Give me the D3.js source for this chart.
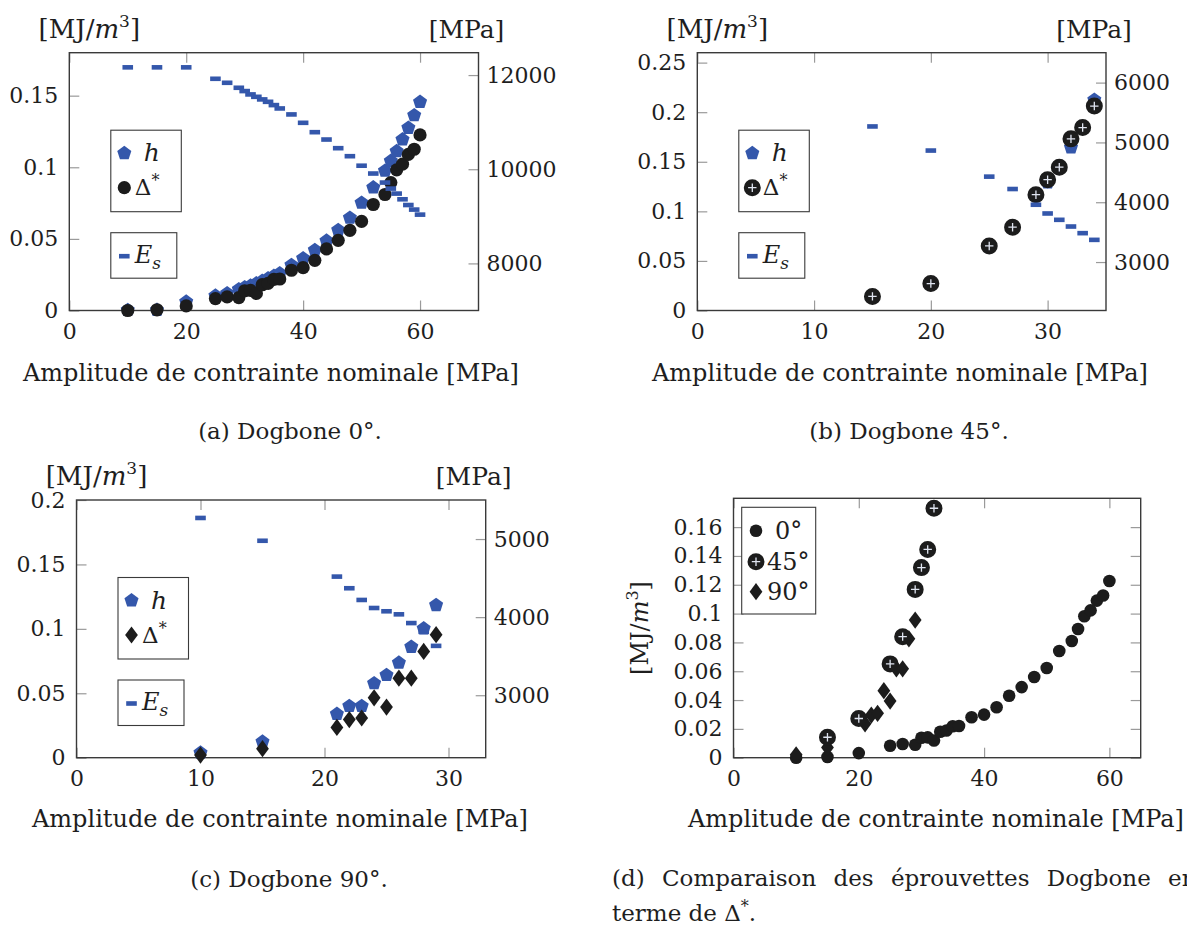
<!DOCTYPE html>
<html>
<head>
<meta charset="utf-8">
<script src="https://cdn.jsdelivr.net/npm/d3@7"></script>
<style>
  body { margin: 0; background: #fff; }
  svg text { font-family: "DejaVu Serif", serif; fill: #1e1e1e; }
</style>
</head>
<body>
<svg id="fig" width="1187" height="925"></svg>
<script>
// ---- Dogbone 0° ----
const stress0 = [10, 15, 20, 25, 27, 29, 30, 31, 32, 33, 34, 35, 36, 38, 40, 42, 44, 46, 48, 50, 52, 54, 55, 56, 57, 58, 59, 60];
const h0      = [0.0003, 0.0004, 0.0061, 0.0103, 0.0120, 0.0148, 0.0162, 0.0173, 0.0190, 0.0206, 0.0224, 0.0241, 0.0259, 0.0317, 0.0364, 0.0422, 0.0487, 0.0561, 0.0647, 0.0752, 0.0859, 0.0975, 0.1044, 0.1112, 0.1194, 0.1275, 0.1363, 0.1456];
const delta0  = [0.0000, 0.0005, 0.0032, 0.0083, 0.0095, 0.0090, 0.0138, 0.0141, 0.0119, 0.0180, 0.0189, 0.0218, 0.0220, 0.0281, 0.0299, 0.0350, 0.0430, 0.0490, 0.0560, 0.0622, 0.0740, 0.0810, 0.0893, 0.0982, 0.1022, 0.1090, 0.1126, 0.1226];
const es0     = [12164, 12164, 12164, 11921, 11836, 11730, 11660, 11589, 11538, 11483, 11432, 11362, 11291, 11164, 10986, 10787, 10631, 10447, 10277, 10075, 9909, 9717, 9589, 9483, 9362, 9240, 9143, 9036];

// ---- Dogbone 45° ----
const stress45 = [15, 20, 25, 27, 29, 30, 31, 32, 33, 34];
const h45      = [0.0141, 0.0272, 0.0640, 0.0840, 0.1160, 0.1290, 0.1445, 0.1644, 0.1845, 0.2125];
const delta45  = [0.0142, 0.0272, 0.0651, 0.0840, 0.1168, 0.1319, 0.1445, 0.1731, 0.1845, 0.2062];
const es45     = [5267, 4864, 4428, 4221, 3958, 3812, 3706, 3594, 3483, 3371];

// ---- Dogbone 90° ----
const stress90 = [10, 15, 21, 22, 23, 24, 25, 26, 27, 28, 29];
const h90      = [0.0039, 0.0124, 0.0339, 0.0401, 0.0401, 0.0577, 0.0641, 0.0737, 0.0860, 0.1003, 0.1184];
const delta90  = [0.0020, 0.0070, 0.0235, 0.0296, 0.0308, 0.0465, 0.0393, 0.0617, 0.0617, 0.0825, 0.0955];
const es90     = [5270, 4978, 4519, 4370, 4220, 4117, 4075, 4036, 3924, 3812, 3632];

// ---- ticks ----
const xTicks0 = [0, 20, 40, 60];
const xTicks45 = [0, 10, 20, 30];
const xTicks90 = [0, 10, 20, 30];
const xTicksCmp = [0, 20, 40, 60];
const yTicks0 = [0, 0.05, 0.1, 0.15];
const yTicks45 = [0, 0.05, 0.1, 0.15, 0.2, 0.25];
const yTicks90 = [0, 0.05, 0.1, 0.15, 0.2];
const yTicksCmp = [0, 0.02, 0.04, 0.06, 0.08, 0.1, 0.12, 0.14, 0.16];
const esTicks0 = [8000, 10000, 12000];
const esTicks45 = [3000, 4000, 5000, 6000];
const esTicks90 = [3000, 4000, 5000];

const xLabel = "Amplitude de contrainte nominale [MPa]";
const captions = ["(a) Dogbone 0°.", "(b) Dogbone 45°.", "(c) Dogbone 90°."];
const captionD1 = "(d) Comparaison des éprouvettes Dogbone en";
const captionD2 = "terme de Δ";

const BLUE = "#3457ab";
const BLACK = "#1c1c1c";
const svg = d3.select("#fig");
const fmt = d3.format("~g");

// ---------- marker helpers ----------
function pentagon(g, cx, cy, r) {
  const pts = d3.range(5).map(k => {
    const a = -Math.PI / 2 + k * 2 * Math.PI / 5;
    return [cx + r * Math.cos(a), cy + r * Math.sin(a)];
  });
  g.append("path").attr("d", "M" + pts.join("L") + "Z").attr("fill", BLUE);
}
function dot(g, cx, cy, r) {
  g.append("circle").attr("cx", cx).attr("cy", cy).attr("r", r).attr("fill", BLACK);
}
function oplus(g, cx, cy) {
  g.append("circle").attr("cx", cx).attr("cy", cy).attr("r", 7.6)
    .attr("fill", BLACK).attr("stroke", BLACK).attr("stroke-width", 1.8);
  g.append("path")
    .attr("d", `M${cx - 4.2},${cy}H${cx + 4.2}M${cx},${cy - 4.2}V${cy + 4.2}`)
    .attr("stroke", "#dfe4f0").attr("stroke-width", 1.3);
}
function diamond(g, cx, cy) {
  const w = 6.4, h = 8.6;
  g.append("path")
    .attr("d", `M${cx},${cy - h}L${cx + w},${cy}L${cx},${cy + h}L${cx - w},${cy}Z`)
    .attr("fill", BLACK);
}
function dash(g, cx, cy) {
  g.append("rect").attr("x", cx - 5.3).attr("y", cy - 2.3)
    .attr("width", 10.6).attr("height", 4.6).attr("fill", BLUE);
}

// ---------- axis frame ----------
function frameAxes(f, xDom, yDom, xT, yT, rDom, rT, rightMirror) {
  const g = svg.append("g");
  const x = d3.scaleLinear().domain(xDom).range([f.l, f.r]);
  const y = d3.scaleLinear().domain(yDom).range([f.b, f.t]);
  const r = rDom ? d3.scaleLinear().domain(rDom).range([f.b, f.t]) : null;

  const style = sel => {
    sel.attr("font-size", null).attr("font-family", null);
    sel.select(".domain").remove();
    sel.selectAll(".tick line").attr("stroke", "#9a9a9a").attr("stroke-width", 1.2);
    sel.selectAll(".tick text").attr("font-size", 22).attr("fill", BLACK);
  };
  g.append("g").attr("transform", `translate(0,${f.b})`)
    .call(d3.axisBottom(x).tickValues(xT).tickSize(-10).tickPadding(13).tickFormat(fmt)).call(style);
  g.append("g").attr("transform", `translate(0,${f.t})`)
    .call(d3.axisTop(x).tickValues(xT).tickSize(-10).tickFormat("")).call(style);
  g.append("g").attr("transform", `translate(${f.l},0)`)
    .call(d3.axisLeft(y).tickValues(yT).tickSize(-10).tickPadding(11).tickFormat(fmt)).call(style);
  if (r) {
    g.append("g").attr("transform", `translate(${f.r},0)`)
      .call(d3.axisRight(r).tickValues(rT).tickSize(-10).tickPadding(8).tickFormat(fmt)).call(style);
  } else if (rightMirror) {
    g.append("g").attr("transform", `translate(${f.r},0)`)
      .call(d3.axisRight(y).tickValues(yT).tickSize(-10).tickFormat("")).call(style);
  }
  g.append("rect").attr("x", f.l).attr("y", f.t).attr("width", f.r - f.l).attr("height", f.b - f.t)
    .attr("fill", "none").attr("stroke", "#3a3a3a").attr("stroke-width", 1.4);
  return { x, y, r };
}

// unit labels above the axes
function unitLabels(f) {
  const t = svg.append("text").attr("x", f.l + 20).attr("y", f.t - 15)
    .attr("text-anchor", "middle").attr("font-size", 26);
  t.append("tspan").text("[MJ/");
  t.append("tspan").attr("font-style", "italic").text("m");
  t.append("tspan").attr("font-size", 17).attr("dy", -11).text("3");
  t.append("tspan").attr("dy", 11).text("]");
  svg.append("text").attr("x", f.r - 12).attr("y", f.t - 15)
    .attr("text-anchor", "middle").attr("font-size", 25).text("[MPa]");
}

function xTitle(cx, y) {
  svg.append("text").attr("x", cx).attr("y", y).attr("text-anchor", "middle")
    .attr("font-size", 24).text(xLabel);
}
function caption(cx, y, s) {
  svg.append("text").attr("x", cx).attr("y", y).attr("text-anchor", "middle")
    .attr("font-size", 23).text(s);
}

// legend with h / Δ* and a separate E_s box
function legends(f, deltaMarker) {
  const g = svg.append("g");
  const bx = f.l + 41.5, by = f.t + 77.5;
  g.append("rect").attr("x", bx).attr("y", by).attr("width", 70.5).attr("height", 81.5)
    .attr("fill", "#fff").attr("stroke", "#3a3a3a").attr("stroke-width", 1.1);
  pentagon(g, bx + 13.5, by + 23, 7.4);
  g.append("text").attr("x", bx + 33).attr("y", by + 31).attr("font-size", 25)
    .attr("font-style", "italic").text("h");
  deltaMarker(g, bx + 13.5, by + 57.5);
  const d = g.append("text").attr("x", bx + 24).attr("y", by + 65).attr("font-size", 23);
  d.append("tspan").text("Δ");
  d.append("tspan").attr("font-size", 16).attr("dy", -9).text("*");

  const b2y = f.t + 180;
  g.append("rect").attr("x", bx).attr("y", b2y).attr("width", 66).attr("height", 45.5)
    .attr("fill", "#fff").attr("stroke", "#3a3a3a").attr("stroke-width", 1.1);
  dash(g, bx + 13.5, b2y + 23.5);
  const e = g.append("text").attr("x", bx + 24).attr("y", b2y + 30).attr("font-size", 24)
    .attr("font-style", "italic");
  e.append("tspan").text("E");
  e.append("tspan").attr("font-size", 17).attr("dy", 6).text("s");
}

function plotSeries(sc, xs, hs, ds, es, dMarker) {
  const g = svg.append("g");
  xs.forEach((v, i) => pentagon(g, sc.x(v), sc.y(hs[i]), 7.4));
  xs.forEach((v, i) => dMarker(g, sc.x(v), sc.y(ds[i])));
  xs.forEach((v, i) => dash(g, sc.x(v), sc.r(es[i])));
}

// ---------- (a) ----------
const fA = { l: 69.3, r: 478.5, t: 52.7, b: 310.5 };
const sA = frameAxes(fA, [0, 70], [0, 0.18], xTicks0, yTicks0, [7000, 12475], esTicks0);
plotSeries(sA, stress0, h0, delta0, es0, (g, x, y) => dot(g, x, y, 6.6));
legends(fA, (g, x, y) => dot(g, x, y, 6.6));
unitLabels(fA);
xTitle(271, 381);
caption(290, 439, captions[0]);

// ---------- (b) ----------
const fB = { l: 697.3, r: 1106, t: 52.7, b: 310.5 };
const sB = frameAxes(fB, [0, 35], [0, 0.26], xTicks45, yTicks45, [2190, 6500], esTicks45);
plotSeries(sB, stress45, h45, delta45, es45, oplus);
legends(fB, oplus);
unitLabels(fB);
xTitle(900, 381);
caption(909, 439, captions[1]);

// ---------- (c) ----------
const fC = { l: 76.5, r: 485.7, t: 500, b: 757.7 };
const sC = frameAxes(fC, [0, 33], [0, 0.2], xTicks90, yTicks90, [2200, 5500], esTicks90);
plotSeries(sC, stress90, h90, delta90, es90, diamond);
legends(fC, diamond);
unitLabels(fC);
xTitle(280, 827);
caption(289, 887, captions[2]);

// ---------- (d) comparison of Δ* ----------
const fD = { l: 733.5, r: 1140.7, t: 498.3, b: 757.7 };
const sD = frameAxes(fD, [0, 65], [0, 0.18], xTicksCmp, yTicksCmp, null, null, true);
svg.append("clipPath").attr("id", "clipD").append("rect")
  .attr("x", fD.l).attr("y", fD.t - 9).attr("width", fD.r - fD.l).attr("height", fD.b - fD.t + 18);
const gD = svg.append("g").attr("clip-path", "url(#clipD)");
stress0.forEach((v, i) => dot(gD, sD.x(v), sD.y(delta0[i]), 6.3));
stress90.forEach((v, i) => diamond(gD, sD.x(v), sD.y(delta90[i])));
stress45.forEach((v, i) => { if (delta45[i] <= 0.18) oplus(gD, sD.x(v), sD.y(delta45[i])); });

const lg = svg.append("g");
lg.append("rect").attr("x", 741.7).attr("y", 507.3).attr("width", 74).attr("height", 106.7)
  .attr("fill", "#fff").attr("stroke", "#3a3a3a").attr("stroke-width", 1.1);
dot(lg, 756, 530.7, 6.3);
oplus(lg, 756, 561.7);
diamond(lg, 756, 591.7);
lg.append("text").attr("x", 775).attr("y", 539).attr("font-size", 24).text("0°");
lg.append("text").attr("x", 767).attr("y", 570).attr("font-size", 24).text("45°");
lg.append("text").attr("x", 767).attr("y", 600).attr("font-size", 24).text("90°");

const yl = svg.append("text").attr("transform", "translate(648,628) rotate(-90)")
  .attr("text-anchor", "middle").attr("font-size", 24);
yl.append("tspan").text("[MJ/");
yl.append("tspan").attr("font-style", "italic").text("m");
yl.append("tspan").attr("font-size", 16).attr("dy", -10).text("3");
yl.append("tspan").attr("dy", 10).text("]");

xTitle(936, 827);
svg.append("text").attr("x", 612).attr("y", 886).attr("font-size", 23)
  .attr("word-spacing", 10).text(captionD1);
const c2 = svg.append("text").attr("x", 612).attr("y", 921).attr("font-size", 23);
c2.append("tspan").text(captionD2);
c2.append("tspan").attr("font-size", 16).attr("dy", -9).text("*");
c2.append("tspan").attr("dy", 9).text(".");
</script>
</body>
</html>
